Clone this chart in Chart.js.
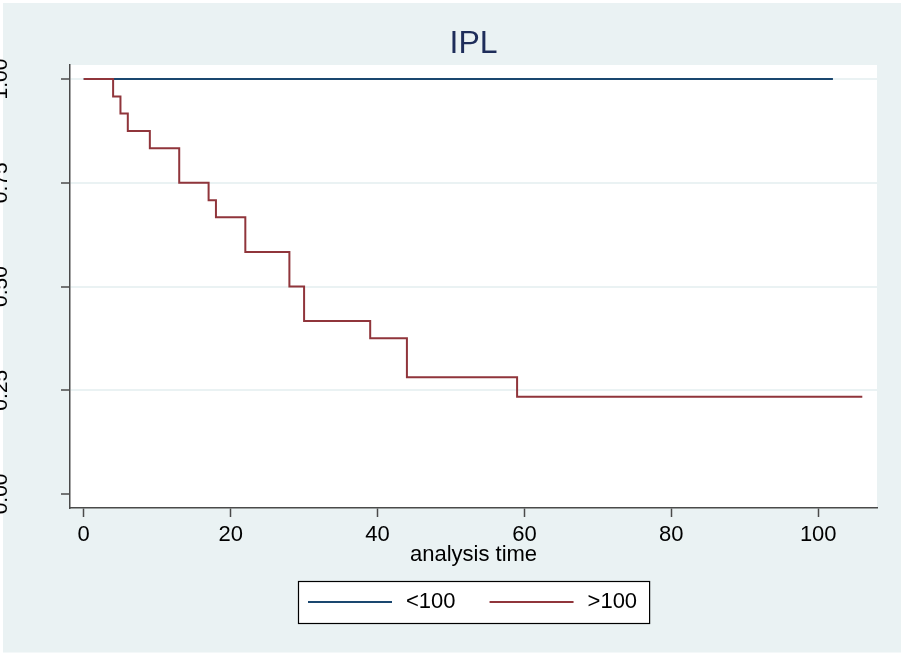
<!DOCTYPE html>
<html>
<head>
<meta charset="utf-8">
<script src="https://cdn.jsdelivr.net/npm/chart.js@4.4.0/dist/chart.umd.min.js"></script>
<style>
html, body { margin: 0; padding: 0; background: #ffffff; }
canvas { display: block; }
</style>
</head>
<body>
<canvas id="c" width="901" height="654"></canvas>
<script>
// ---- data ----
const chartTitle = 'IPL';
const xAxisTitle = 'analysis time';
const seriesLabels = ['<100', '>100'];
const seriesColors = ['rgb(26,71,111)', 'rgb(144,53,59)'];
const timeLow = [0, 102];
const survLow = [1, 1];
const timeHigh = [0, 4, 5, 6, 9, 13, 17, 18, 22, 28, 30, 39, 44, 59, 106];
const survHigh = [1, 0.958, 0.917, 0.875, 0.833, 0.750, 0.708, 0.667, 0.583, 0.500, 0.417, 0.375, 0.281, 0.234, 0.234];
const xTickValues = [0, 20, 40, 60, 80, 100];
const yTickValues = [0, 0.25, 0.5, 0.75, 1];

const FONT = '"Liberation Sans", Arial, Helvetica, sans-serif';
const BG = 'rgb(234,242,243)';
const AXIS = '#4a4a4a';

function pairs(xs, ys) { return xs.map((x, i) => ({ x: x, y: ys[i] })); }

const bgPlugin = {
  id: 'bgPlugin',
  beforeDraw(chart) {
    const ctx = chart.ctx, ca = chart.chartArea;
    ctx.save();
    ctx.fillStyle = '#ffffff';
    ctx.fillRect(0, 0, chart.width, chart.height);
    ctx.fillStyle = BG;
    ctx.fillRect(3, 3, chart.width - 3, chart.height - 4.5);
    ctx.fillStyle = '#ffffff';
    ctx.fillRect(ca.left, ca.top, ca.right - ca.left, ca.bottom - ca.top);
    ctx.restore();
  }
};

const legendBoxPlugin = {
  id: 'legendBoxPlugin',
  afterDraw(chart) {
    const ctx = chart.ctx, ca = chart.chartArea;
    const ds = chart.data.datasets;
    const order = [0, 1];
    ctx.save();
    ctx.font = '22px ' + FONT;
    const padL = 10, lineW = 84, gap = 14, between = 34, padR = 12;
    const widths = order.map(i => ctx.measureText(ds[i].label).width);
    let total = padL + padR;
    order.forEach((i, k) => { total += lineW + gap + widths[k] + (k < order.length - 1 ? between : 0); });
    const cx = (ca.left + ca.right) / 2;
    const left = Math.round(cx - total / 2);
    const top = 581, h = 42, cy = top + h / 2;
    ctx.fillStyle = '#ffffff';
    ctx.fillRect(left, top, total, h);
    ctx.strokeStyle = '#000000';
    ctx.lineWidth = 1.2;
    ctx.strokeRect(left + 0.5, top + 0.5, total, h);
    let x = left + padL;
    order.forEach((i, k) => {
      ctx.strokeStyle = ds[i].borderColor;
      ctx.lineWidth = 2;
      ctx.beginPath();
      ctx.moveTo(x, cy);
      ctx.lineTo(x + lineW, cy);
      ctx.stroke();
      x += lineW + gap;
      ctx.fillStyle = '#000000';
      ctx.textBaseline = 'middle';
      ctx.textAlign = 'left';
      ctx.fillText(ds[i].label, x, cy);
      x += widths[k] + between;
    });
    ctx.restore();
  }
};

new Chart(document.getElementById('c'), {
  type: 'line',
  data: {
    datasets: [
      {
        label: seriesLabels[0],
        data: pairs(timeLow, survLow),
        borderColor: seriesColors[0],
        backgroundColor: seriesColors[0],
        borderWidth: 2,
        pointRadius: 0,
        stepped: 'before',
        fill: false,
        order: 1
      },
      {
        label: seriesLabels[1],
        data: pairs(timeHigh, survHigh),
        borderColor: seriesColors[1],
        backgroundColor: seriesColors[1],
        borderWidth: 2,
        pointRadius: 0,
        stepped: 'before',
        fill: false,
        order: 0
      }
    ]
  },
  options: {
    responsive: false,
    animation: false,
    devicePixelRatio: 1,
    layout: { padding: { left: 0, right: 24, top: 0, bottom: 86 } },
    plugins: {
      legend: { display: false },
      tooltip: { enabled: false },
      title: {
        display: true,
        fullSize: false,
        text: chartTitle,
        color: 'rgb(30,45,90)',
        font: { family: FONT, size: 32, weight: 'normal' },
        padding: { top: 24.6, bottom: 2 }
      }
    },
    scales: {
      x: {
        type: 'linear',
        min: -1.87,
        max: 108,
        afterBuildTicks: (scale) => { scale.ticks = xTickValues.map(v => ({ value: v })); },
        afterFit: (scale) => { scale.height = 60; },
        ticks: {
          autoSkip: false,
          maxRotation: 0,
          minRotation: 0,
          padding: 4.5,
          color: '#000000',
          font: { family: FONT, size: 22 },
          callback: (v) => String(v)
        },
        grid: {
          display: true,
          drawOnChartArea: false,
          drawTicks: true,
          tickLength: 9,
          tickColor: AXIS,
          tickWidth: 1.5
        },
        border: { display: true, color: AXIS, width: 1.5 },
        title: {
          display: true,
          text: xAxisTitle,
          color: '#000000',
          font: { family: FONT, size: 22 },
          padding: { top: 0, bottom: 0 }
        }
      },
      y: {
        type: 'linear',
        min: -0.034,
        max: 1.034,
        afterBuildTicks: (scale) => { scale.ticks = yTickValues.map(v => ({ value: v })); },
        afterFit: (scale) => { scale.width = 70; },
        ticks: {
          autoSkip: false,
          minRotation: 90,
          maxRotation: 90,
          crossAlign: 'center',
          padding: 39,
          color: '#000000',
          font: { family: FONT, size: 21 },
          callback: (v) => Number(v).toFixed(2)
        },
        grid: {
          display: true,
          drawOnChartArea: true,
          drawTicks: true,
          tickLength: 9,
          lineWidth: 2,
          color: (c) => (c.tick && c.tick.value === 0) ? 'rgba(0,0,0,0)' : BG,
          tickColor: AXIS,
          tickWidth: 1.5
        },
        border: { display: true, color: AXIS, width: 1.5 }
      }
    }
  },
  plugins: [bgPlugin, legendBoxPlugin]
});
</script>
</body>
</html>
